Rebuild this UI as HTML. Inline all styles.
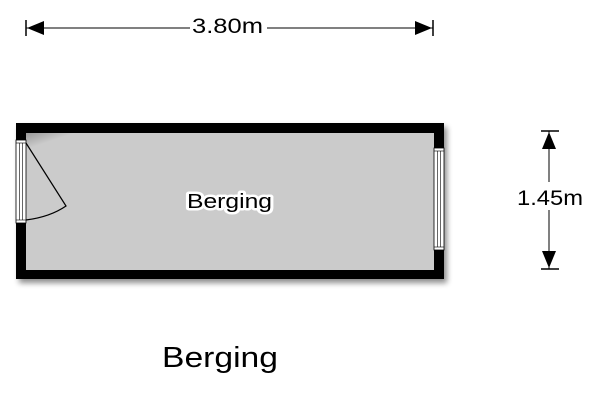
<!DOCTYPE html>
<html><head><meta charset="utf-8"><style>
body{margin:0;background:#fff}
svg{display:block}
text{font-family:"Liberation Sans",Arial,sans-serif}
</style></head><body>
<svg width="600" height="400" viewBox="0 0 600 400" xmlns="http://www.w3.org/2000/svg">
<defs>
<filter id="sh" x="-10%" y="-10%" width="130%" height="130%"><feGaussianBlur in="SourceAlpha" stdDeviation="3"/><feOffset dx="3" dy="4"/><feComponentTransfer><feFuncA type="linear" slope="0.45"/></feComponentTransfer><feMerge><feMergeNode/><feMergeNode in="SourceGraphic"/></feMerge></filter>
<linearGradient id="ig" x1="0" y1="0" x2="1" y2="1"><stop offset="0" stop-color="#9a9a9a"/><stop offset="0.06" stop-color="#cbcbcb"/><stop offset="1" stop-color="#cbcbcb"/></linearGradient>
</defs>
<line x1="26" y1="28" x2="190" y2="28" stroke="#000" stroke-width="1"/>
<line x1="267" y1="28" x2="433" y2="28" stroke="#000" stroke-width="1"/>
<line x1="26" y1="20" x2="26" y2="36" stroke="#000" stroke-width="1.5"/>
<line x1="433" y1="20" x2="433" y2="36" stroke="#000" stroke-width="1.5"/>
<polygon points="27,28 44,21 44,35" fill="#000"/>
<polygon points="432,28 415,21 415,35" fill="#000"/>
<text x="192" y="33" font-size="21" textLength="71" lengthAdjust="spacingAndGlyphs">3.80m</text>
<line x1="549" y1="131" x2="549" y2="182" stroke="#000" stroke-width="1"/>
<line x1="549" y1="210" x2="549" y2="269" stroke="#000" stroke-width="1"/>
<line x1="541" y1="131" x2="559" y2="131" stroke="#000" stroke-width="1.5"/>
<line x1="541" y1="269" x2="559" y2="269" stroke="#000" stroke-width="1.5"/>
<polygon points="549,132 542,149 556,149" fill="#000"/>
<polygon points="549,268 542,251 556,251" fill="#000"/>
<text x="517" y="205" font-size="21" textLength="66" lengthAdjust="spacingAndGlyphs">1.45m</text>
<g filter="url(#sh)">
<rect x="16" y="123" width="428" height="156" fill="#000"/>
</g>
<rect x="26" y="133" width="408" height="137" fill="url(#ig)"/>
<rect x="16" y="140" width="10" height="83" fill="#fff" stroke="#000" stroke-width="0.8"/>
<line x1="19.5" y1="143" x2="19.5" y2="220" stroke="#000" stroke-width="0.6"/>
<line x1="22.5" y1="143" x2="22.5" y2="220" stroke="#000" stroke-width="0.6"/>
<line x1="16" y1="143" x2="26" y2="143" stroke="#000" stroke-width="0.6"/>
<line x1="16" y1="220" x2="26" y2="220" stroke="#000" stroke-width="0.6"/>
<rect x="434" y="148" width="10" height="102" fill="#fff" stroke="#000" stroke-width="0.8"/>
<line x1="437.5" y1="151" x2="437.5" y2="247" stroke="#000" stroke-width="0.6"/>
<line x1="440.5" y1="151" x2="440.5" y2="247" stroke="#000" stroke-width="0.6"/>
<line x1="434" y1="151" x2="444" y2="151" stroke="#000" stroke-width="0.6"/>
<line x1="434" y1="247" x2="444" y2="247" stroke="#000" stroke-width="0.6"/>
<path d="M26,143 L66,206 Q50,217 26,220" fill="none" stroke="#000" stroke-width="1.2"/>
<text x="187" y="208" font-size="20" textLength="85" lengthAdjust="spacingAndGlyphs" stroke="#fff" stroke-width="5" stroke-linejoin="round" fill="#fff">Berging</text>
<text x="187" y="208" font-size="20" textLength="85" lengthAdjust="spacingAndGlyphs" fill="#000">Berging</text>
<text x="162" y="367" font-size="29" textLength="116" lengthAdjust="spacingAndGlyphs">Berging</text>
</svg>
</body></html>
